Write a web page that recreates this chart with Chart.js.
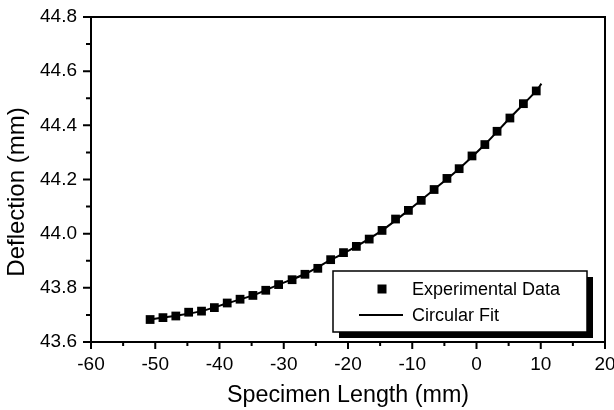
<!DOCTYPE html>
<html>
<head>
<meta charset="utf-8">
<script src="https://cdn.jsdelivr.net/npm/chart.js@4.4.1/dist/chart.umd.min.js"></script>
<style>
  html, body { margin: 0; padding: 0; background: #ffffff; }
  #wrap { position: relative; width: 614px; height: 410px; }
</style>
</head>
<body>
<div id="wrap"><canvas id="c" width="614" height="410"></canvas></div>
<script>
// ---- data ----
const specimenLength = [-50.8, -48.8, -46.8, -44.8, -42.8, -40.8, -38.8, -36.8, -34.8, -32.8,
  -30.8, -28.7, -26.7, -24.7, -22.7, -20.7, -18.7, -16.7, -14.7, -12.6,
  -10.6, -8.6, -6.6, -4.6, -2.7, -0.7, 1.3, 3.2, 5.2, 7.3, 9.3];
const deflection = [43.683, 43.690, 43.696, 43.710, 43.714, 43.727, 43.744, 43.758, 43.772, 43.791,
  43.812, 43.830, 43.850, 43.872, 43.904, 43.930, 43.953, 43.980, 44.012, 44.054,
  44.086, 44.123, 44.163, 44.204, 44.240, 44.287, 44.329, 44.378, 44.427, 44.480, 44.527];
const fitLength = [-50.8, -46.8, -42.8, -38.8, -34.8, -30.8, -26.7, -22.7, -18.7, -14.7,
  -10.6, -6.6, -2.7, 1.3, 5.2, 9.3, 10.1];
const fitDeflection = [43.683, 43.697, 43.714, 43.743, 43.772, 43.812, 43.851, 43.903, 43.953, 44.012,
  44.086, 44.163, 44.240, 44.329, 44.427, 44.527, 44.554];
const xTicks = [-60, -50, -40, -30, -20, -10, 0, 10, 20];
const yTicks = [43.6, 43.8, 44.0, 44.2, 44.4, 44.6, 44.8];
const legendLabels = ['Experimental Data', 'Circular Fit'];
const xTitle = 'Specimen Length (mm)';
const yTitle = 'Deflection (mm)';

const FONT = "'Liberation Sans', Arial, Helvetica, sans-serif";

const framePlugin = {
  id: 'frame',
  afterDraw(chart) {
    const ctx = chart.ctx;
    const a = chart.chartArea;
    const xs = chart.scales.x, ys = chart.scales.y;
    ctx.save();
    ctx.strokeStyle = '#000';
    ctx.lineWidth = 2;
    ctx.strokeRect(a.left, a.top, a.right - a.left, a.bottom - a.top);
    // ticks (major and minor), outward
    ctx.beginPath();
    for (let i = 0; i < xTicks.length; i++) {
      const px = xs.getPixelForValue(xTicks[i]);
      ctx.moveTo(px, a.bottom); ctx.lineTo(px, a.bottom + 7);
      if (i < xTicks.length - 1) {
        const pm = xs.getPixelForValue((xTicks[i] + xTicks[i + 1]) / 2);
        ctx.moveTo(pm, a.bottom); ctx.lineTo(pm, a.bottom + 4);
      }
    }
    for (let i = 0; i < yTicks.length; i++) {
      const py = ys.getPixelForValue(yTicks[i]);
      ctx.moveTo(a.left, py); ctx.lineTo(a.left - 8, py);
      if (i < yTicks.length - 1) {
        const pm = ys.getPixelForValue((yTicks[i] + yTicks[i + 1]) / 2);
        ctx.moveTo(a.left, pm); ctx.lineTo(a.left - 5, pm);
      }
    }
    ctx.stroke();

    // y title
    ctx.save();
    ctx.translate(17, 192);
    ctx.rotate(-Math.PI / 2);
    ctx.fillStyle = '#000';
    ctx.font = '24px ' + FONT;
    ctx.textAlign = 'center';
    ctx.textBaseline = 'middle';
    ctx.fillText(yTitle, 0, 0);
    ctx.restore();

    // legend box with drop shadow
    const bx = 333, by = 271, bw = 254, bh = 61, sh = 6;
    ctx.fillStyle = '#000';
    ctx.fillRect(bx + sh, by + sh, bw, bh);
    ctx.fillStyle = '#fff';
    ctx.fillRect(bx, by, bw, bh);
    ctx.lineWidth = 1.5;
    ctx.strokeRect(bx, by, bw, bh);
    ctx.fillStyle = '#000';
    ctx.fillRect(382 - 4.5, 289 - 4.5, 9, 9);
    ctx.lineWidth = 2;
    ctx.beginPath();
    ctx.moveTo(359, 315); ctx.lineTo(403, 315);
    ctx.stroke();
    ctx.font = '18px ' + FONT;
    ctx.textAlign = 'left';
    ctx.textBaseline = 'middle';
    ctx.fillText(legendLabels[0], 412, 290);
    ctx.fillText(legendLabels[1], 412, 316);
    ctx.restore();
  }
};

new Chart(document.getElementById('c'), {
  type: 'scatter',
  data: {
    datasets: [
      {
        label: legendLabels[1],
        data: fitLength.map((x, i) => ({ x, y: fitDeflection[i] })),
        showLine: true,
        borderColor: '#000',
        borderWidth: 2,
        pointRadius: 0,
        tension: 0.3,
        order: 2
      },
      {
        label: legendLabels[0],
        data: specimenLength.map((x, i) => ({ x, y: deflection[i] })),
        showLine: false,
        pointStyle: 'rect',
        pointRadius: 6.2,
        backgroundColor: '#000',
        borderColor: '#000',
        borderWidth: 0,
        order: 1
      }
    ]
  },
  options: {
    responsive: false,
    animation: false,
    events: [],
    layout: { padding: { top: 17, right: 9, left: 0, bottom: 0 } },
    plugins: { legend: { display: false }, tooltip: { enabled: false } },
    scales: {
      x: {
        type: 'linear',
        min: -60, max: 20,
        afterBuildTicks: (s) => { s.ticks = xTicks.map(v => ({ value: v })); },
        afterFit: (s) => { s.height = 68; s.paddingLeft = 0; s.paddingRight = 0; },
        grid: { display: false, drawTicks: false },
        border: { display: false },
        ticks: {
          color: '#000',
          font: { family: FONT, size: 19 },
          padding: 11,
          maxRotation: 0,
          callback: (v) => String(v)
        },
        title: {
          display: true,
          text: xTitle,
          color: '#000',
          font: { family: FONT, size: 23.3 },
          padding: { top: 0, bottom: 0 }
        }
      },
      y: {
        type: 'linear',
        min: 43.6, max: 44.8,
        afterBuildTicks: (s) => { s.ticks = yTicks.map(v => ({ value: v })); },
        afterFit: (s) => { s.width = 91; s.paddingTop = 0; s.paddingBottom = 0; },
        grid: { display: false, drawTicks: false },
        border: { display: false },
        ticks: {
          color: '#000',
          font: { family: FONT, size: 19 },
          padding: 14,
          callback: (v) => Number(v).toFixed(1)
        }
      }
    }
  },
  plugins: [framePlugin]
});
</script>
</body>
</html>
